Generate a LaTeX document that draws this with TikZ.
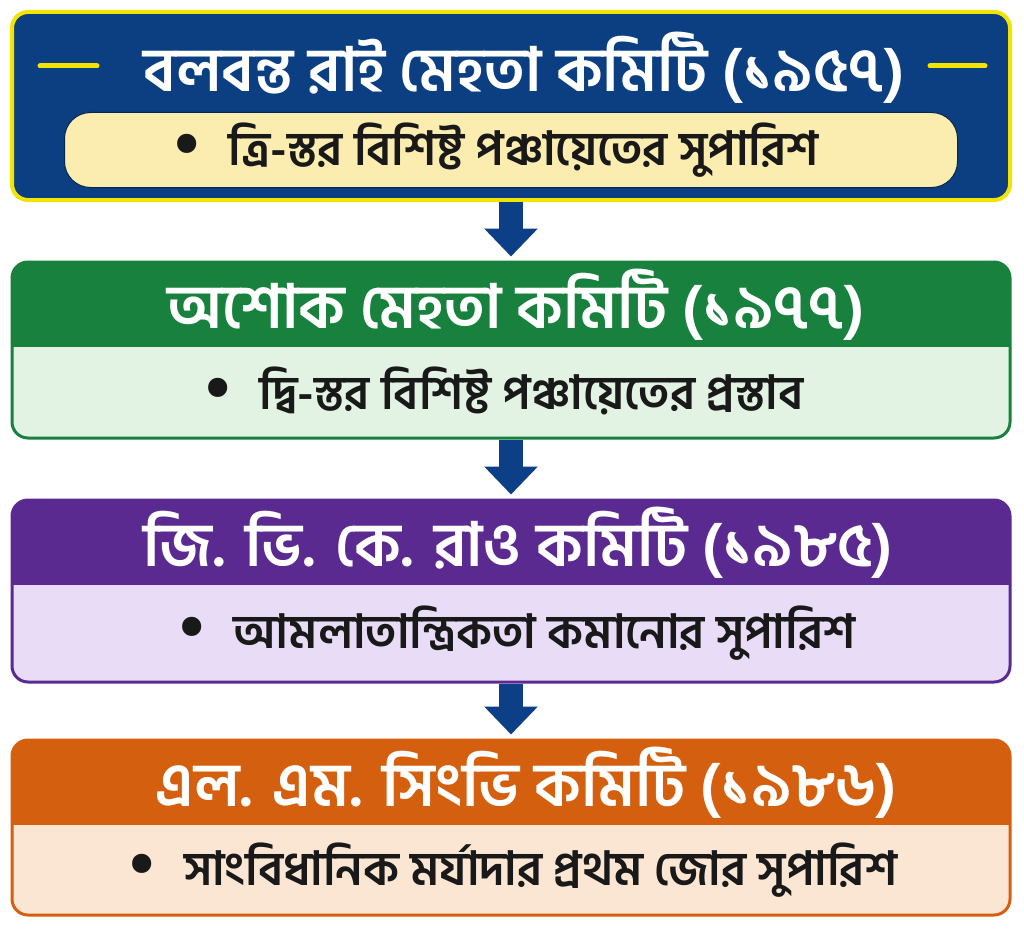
\documentclass[tikz,border=0pt]{standalone}
\usepackage{fontspec}
\newfontfamily\bangla[Script=Bengali]{Hind Siliguri}
\usetikzlibrary{arrows.meta}

\definecolor{navyhd}{HTML}{0B3F82}
\definecolor{goldbd}{HTML}{F2E400}
\definecolor{creambd}{HTML}{FBEDB0}
\definecolor{greenhd}{HTML}{17813D}
\definecolor{greenbd}{HTML}{E2F2E3}
\definecolor{purplehd}{HTML}{5B2A91}
\definecolor{purplebd}{HTML}{E9DCF6}
\definecolor{orangehd}{HTML}{D4600F}
\definecolor{orangebd}{HTML}{FBE6D4}
\definecolor{flowblue}{HTML}{0D3F87}

\newcommand{\dotmark}{{\fontsize{72}{72}\selectfont\raisebox{-0.06em}{•}}\hspace{0.55em}}

\tikzset{frame/.style = {line width=3pt, rounded corners=16pt}}
\tikzset{title/.style = {text=white, font=\bangla\bfseries\fontsize{61}{70}\selectfont}}
\tikzset{point/.style = {text=black!90, font=\bangla\bfseries\fontsize{47}{56}\selectfont}}
\tikzset{flow/.style = {draw=flowblue, line width=24pt, -{Triangle[length=28pt,width=52pt]}}}

\begin{document}
\begin{tikzpicture}[x=1pt,y=-1pt]
		\useasboundingbox (0,0) rectangle (1024,936);
		\fill[white] (0,0) rectangle (1024,936);
		
		% panel 1
		\node[frame, line width=4pt, draw=goldbd, fill=navyhd, minimum width=998pt, minimum height=188pt] (c1) at (511,106) {};
		\draw[goldbd, line width=5pt, line cap=round] (40,66) -- (97,66);
		\draw[goldbd, line width=5pt, line cap=round] (930,66) -- (985,66);
		\node[title] (t1) at (524,68) {বলবন্ত রাই মেহতা কমিটি (১৯৫৭)};
		\node[draw=navyhd!60!black, line width=1pt, fill=creambd, rounded corners=26pt, minimum width=893pt, minimum height=75pt] (p1) at (511,150) {};
		\node[point] (b1) at (495,150) {\dotmark ত্রি-স্তর বিশিষ্ট পঞ্চায়েতের সুপারিশ};
		
		% panel 2
		\begin{scope}
			\clip[rounded corners=16pt] (12,262) rectangle (1010,438);
			\fill[greenbd] (12,262) rectangle (1010,438);
			\fill[greenhd] (12,262) rectangle (1010,347);
		\end{scope}
		\node[frame, draw=greenhd, minimum width=998pt, minimum height=176pt] (c2) at (511,350) {};
		\node[title] (t2) at (516,305) {অশোক মেহতা কমিটি (১৯৭৭)};
		\node[point] (b2) at (503,391) {\dotmark দ্বি-স্তর বিশিষ্ট পঞ্চায়েতের প্রস্তাব};
		
		% panel 3
		\begin{scope}
			\clip[rounded corners=16pt] (12,500) rectangle (1010,682);
			\fill[purplebd] (12,500) rectangle (1010,682);
			\fill[purplehd] (12,500) rectangle (1010,585);
		\end{scope}
		\node[frame, draw=purplehd, minimum width=998pt, minimum height=182pt] (c3) at (511,591) {};
		\node[title] (t3) at (518,543) {জি. ভি. কে. রাও কমিটি (১৯৮৫)};
		\node[point] (b3) at (516,633) {\dotmark আমলাতান্ত্রিকতা কমানোর সুপারিশ};
		
		% panel 4
		\begin{scope}
			\clip[rounded corners=16pt] (12,740) rectangle (1010,915);
			\fill[orangebd] (12,740) rectangle (1010,915);
			\fill[orangehd] (12,740) rectangle (1010,825);
		\end{scope}
		\node[frame, draw=orangehd, minimum width=998pt, minimum height=175pt] (c4) at (511,827.5) {};
		\node[title] (t4) at (526,783) {এল. এম. সিংভি কমিটি (১৯৮৬)};
		\node[point] (b4) at (512,870) {\dotmark সাংবিধানিক মর্যাদার প্রথম জোর সুপারিশ};
		
		% arrows
		\draw[flow] (c1.south) -- ([yshift=4pt]c2.north);
		\draw[flow] (c2.south) -- ([yshift=4pt]c3.north);
		\draw[flow] (c3.south) -- ([yshift=4pt]c4.north);
	\end{tikzpicture}
\end{document}
